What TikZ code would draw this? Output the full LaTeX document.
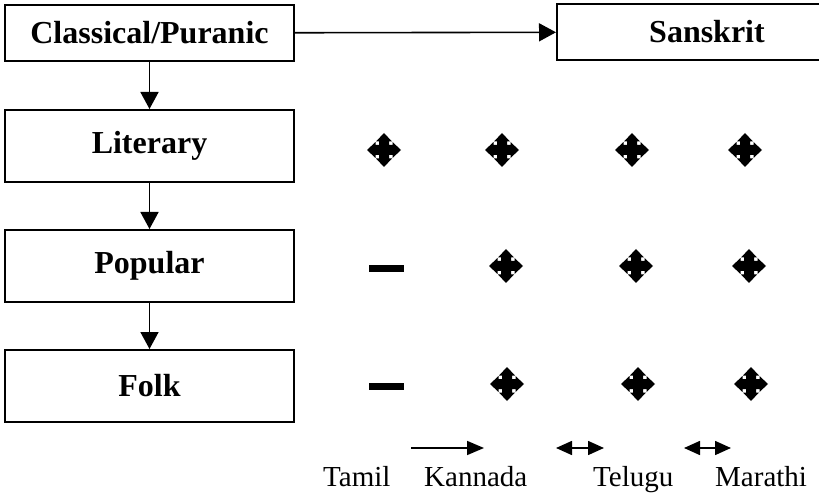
\documentclass[tikz,border=0pt]{standalone}
\usepackage{fontspec}
\setmainfont{Liberation Serif}
\usetikzlibrary{arrows.meta}

\begin{document}
\begin{tikzpicture}[x=1pt, y=-1pt,
  level/.style={draw, line width=2pt, font=\fontsize{32}{36}\selectfont\bfseries,
                minimum width=289pt, minimum height=72pt, inner sep=0pt},
  flow/.style={line width=1.6pt, -{Triangle[length=17pt, width=18pt]}},
  key/.style={line width=1.6pt, -{Triangle[length=17pt, width=14pt]}},
  keyboth/.style={line width=1.6pt, {Triangle[length=16pt, width=14pt]}-{Triangle[length=16pt, width=14pt]}},
  lang/.style={anchor=base west, inner sep=0pt, font=\fontsize{29}{32}\selectfont},
  moveglyph/.pic={
    \fill[black] (-5,-5) -- (-5,-8.5) -- (-8,-8.5) -- (0,-17) -- (8,-8.5) -- (5,-8.5) -- (5,-5)
      -- (8.5,-5) -- (8.5,-8) -- (17,0) -- (8.5,8) -- (8.5,5) -- (5,5)
      -- (5,8.5) -- (8,8.5) -- (0,17) -- (-8,8.5) -- (-5,8.5) -- (-5,5)
      -- (-8.5,5) -- (-8.5,8) -- (-17,0) -- (-8.5,-8) -- (-8.5,-5) -- cycle;
  },
  nilbar/.pic={\fill[black] (-17.5,-3.5) rectangle (17.5,3.5);}
]
\useasboundingbox (0,0) rectangle (819,494);

% hierarchy of levels
\node[level, minimum height=56pt, minimum width=289pt] (classical) at (149.5,33) {Classical/Puranic};
\node[level, minimum height=56pt, minimum width=360pt] (sanskrit) at (737,32) {};
\node[font=\fontsize{32}{36}\selectfont\bfseries, inner sep=0pt] (sanskritlabel) at (707,32) {Sanskrit};
\node[level] (literary) at (149.5,146) {Literary};
\node[level] (popular)  at (149.5,266) {Popular};
\node[level] (folk)     at (149.5,386) {Folk};

\draw[flow] (classical) -- (sanskrit);
\draw[flow] (classical) -- (literary);
\draw[flow] (literary) -- (popular);
\draw[flow] (popular) -- (folk);

% presence marks per language
\pic at (384,150) {moveglyph};
\pic at (502,150) {moveglyph};
\pic at (632,150) {moveglyph};
\pic at (745,150) {moveglyph};

\pic at (386.5,269) {nilbar};
\pic at (506,266) {moveglyph};
\pic at (636,266) {moveglyph};
\pic at (749,266) {moveglyph};

\pic at (386.5,386) {nilbar};
\pic at (507,384) {moveglyph};
\pic at (638,384) {moveglyph};
\pic at (751,384) {moveglyph};

% language key
\coordinate (k1a) at (411,448);
\coordinate (k1b) at (484,448);
\coordinate (k2a) at (556,448);
\coordinate (k2b) at (604,448);
\coordinate (k3a) at (684,448);
\coordinate (k3b) at (731,448);
\draw[key] (k1a) -- (k1b);
\draw[keyboth] (k2a) -- (k2b);
\draw[keyboth] (k3a) -- (k3b);

\node[lang] (tamil)   at (323,486) {Tamil};
\node[lang] (kannada) at (424,486) {Kannada};
\node[lang] (telugu)  at (593,486) {Telugu};
\node[lang] (marathi) at (715,486) {Marathi};
\end{tikzpicture}
\end{document}
